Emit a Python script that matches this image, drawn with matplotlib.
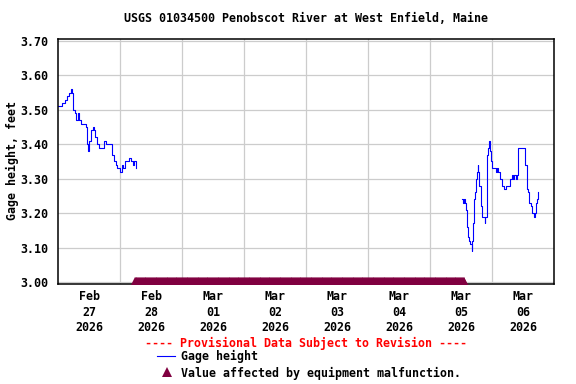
import matplotlib
matplotlib.use("Agg")
import matplotlib.pyplot as plt
import numpy as np
import pandas as pd
from matplotlib.lines import Line2D

plt.rcParams['font.family'] = ['DejaVu Sans Mono', 'DejaVu Sans']
plt.rcParams['font.weight'] = 'bold'
plt.rcParams['font.size'] = 8.4

title = "USGS 01034500 Penobscot River at West Enfield, Maine"
ylabel = "Gage height, feet"
origin = pd.Timestamp("2026-02-27 00:00")

# time offsets in days since origin, gage heights in feet
seg1_days = [0.005, 0.059, 0.113, 0.140, 0.177, 0.204, 0.220, 0.247, 0.274, 0.290,
             0.317, 0.344, 0.371, 0.409, 0.452, 0.462, 0.478, 0.505, 0.527, 0.559,
             0.581, 0.597, 0.624, 0.667, 0.720, 0.747, 0.774, 0.849, 0.876, 0.903,
             0.935, 0.957, 1.000, 1.027, 1.054, 1.081, 1.134, 1.150, 1.172, 1.199,
             1.215, 1.231, 1.253]
seg1_vals = [3.51, 3.52, 3.53, 3.54, 3.55, 3.56, 3.55, 3.50, 3.49, 3.47,
             3.49, 3.47, 3.46, 3.46, 3.45, 3.40, 3.38, 3.41, 3.44, 3.45,
             3.44, 3.42, 3.40, 3.39, 3.39, 3.41, 3.40, 3.40, 3.37, 3.35,
             3.34, 3.33, 3.32, 3.34, 3.33, 3.35, 3.35, 3.36, 3.35, 3.35,
             3.34, 3.35, 3.33]

seg2_days = [6.521, 6.538, 6.554, 6.565, 6.581, 6.591, 6.608, 6.634, 6.645, 6.661,
             6.672, 6.683, 6.699, 6.715, 6.731, 6.742, 6.758, 6.769, 6.780, 6.796,
             6.817, 6.839, 6.866, 6.882, 6.892, 6.909, 6.925, 6.941, 6.957, 6.968,
             6.984, 7.005, 7.048, 7.064, 7.086, 7.102, 7.129, 7.156, 7.194, 7.221,
             7.263, 7.290, 7.317, 7.344, 7.360, 7.382, 7.398, 7.425, 7.516, 7.532,
             7.559, 7.586, 7.602, 7.624, 7.651, 7.677, 7.693, 7.704, 7.720, 7.737]
seg2_vals = [3.24, 3.23, 3.24, 3.23, 3.21, 3.16, 3.13, 3.12, 3.11, 3.11,
             3.09, 3.12, 3.17, 3.24, 3.26, 3.30, 3.32, 3.34, 3.32, 3.28,
             3.22, 3.19, 3.19, 3.17, 3.19, 3.19, 3.37, 3.39, 3.41, 3.38,
             3.35, 3.33, 3.33, 3.32, 3.33, 3.32, 3.30, 3.28, 3.27, 3.28,
             3.28, 3.30, 3.31, 3.30, 3.31, 3.30, 3.31, 3.39, 3.39, 3.34,
             3.27, 3.26, 3.23, 3.22, 3.20, 3.19, 3.20, 3.23, 3.24, 3.26]

malf_start = "2026-02-28 05:45"
malf_end = "2026-03-05 13:15"
malf_value = 3.004

y_ticks = [3.00, 3.10, 3.20, 3.30, 3.40, 3.50, 3.60, 3.70]
day_labels = ["Feb\n27\n2026", "Feb\n28\n2026", "Mar\n01\n2026", "Mar\n02\n2026",
              "Mar\n03\n2026", "Mar\n04\n2026", "Mar\n05\n2026", "Mar\n06\n2026"]
provisional = "---- Provisional Data Subject to Revision ----"
legend_labels = ["Gage height", "Value affected by equipment malfunction."]

line_color = "#0000ff"
malf_color = "#800040"

W, H = 576, 384
fig = plt.figure(figsize=(W / 100, H / 100), dpi=100)
ax = fig.add_axes([58 / W, 1 - 283.5 / H, (554 - 58) / W, (283.5 - 39) / H])

t1 = origin + pd.to_timedelta(seg1_days, unit="D")
t2 = origin + pd.to_timedelta(seg2_days, unit="D")
ax.plot(t1, seg1_vals, color=line_color, lw=0.8, drawstyle="steps-post")
ax.plot(t2, seg2_vals, color=line_color, lw=0.8, drawstyle="steps-post")

mt = pd.date_range(malf_start, malf_end, freq="15min")
ax.plot(mt, np.full(len(mt), malf_value), linestyle="none", marker="^",
        markersize=5.2, color=malf_color, markeredgewidth=0, clip_on=False, zorder=5)

ndays = len(day_labels)
ax.set_xlim(origin, origin + pd.Timedelta(days=ndays))
ax.set_ylim(2.9955, 3.7058)

ax.set_yticks(y_ticks)
ax.set_yticklabels([f"{v:.2f}" for v in y_ticks])
noons = [origin + pd.Timedelta(hours=12 + 24 * i) for i in range(ndays)]
mids = [origin + pd.Timedelta(days=i) for i in range(1, ndays)]
ax.set_xticks(noons)
ax.set_xticklabels(day_labels, linespacing=1.22)
ax.set_xticks(mids, minor=True)
ax.tick_params(axis="both", which="both", length=0)
ax.tick_params(axis="x", pad=5)
ax.tick_params(axis="y", pad=7)
ax.grid(False)
ax.xaxis.grid(True, which="minor", color="#cccccc", lw=0.9)
ax.yaxis.grid(True, which="major", color="#cccccc", lw=0.9)
ax.set_axisbelow(True)
for s in ax.spines.values():
    s.set_color("black")
    s.set_linewidth(1.1)

fig.text(306 / W, 1 - 19 / H, title, ha="center", va="center", fontweight="bold")
fig.text(12 / W, 1 - 161 / H, ylabel, ha="center", va="center", rotation=90, fontweight="bold")
fig.text(306 / W, 1 - 343 / H, provisional, ha="center", va="center", color="red", fontweight="bold")

fig.add_artist(Line2D([157 / W, 175 / W], [1 - 356 / H, 1 - 356 / H], color=line_color, lw=0.8))
fig.text(181 / W, 1 - 356 / H, legend_labels[0], ha="left", va="center", fontweight="bold")
fig.add_artist(Line2D([167 / W], [1 - 372 / H], marker="^", markersize=7, color=malf_color,
                      markeredgewidth=0, linestyle="none"))
fig.text(181 / W, 1 - 373 / H, legend_labels[1], ha="left", va="center", fontweight="bold")

fig.savefig("out.png", dpi=100)
